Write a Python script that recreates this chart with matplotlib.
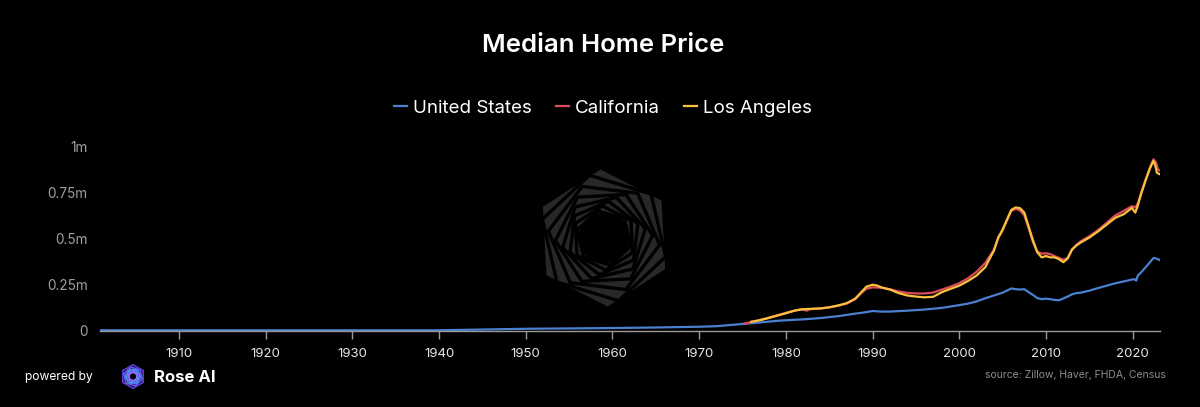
import numpy as np
import matplotlib
matplotlib.use("Agg")
import matplotlib.pyplot as plt
from matplotlib.patches import RegularPolygon, Circle
from matplotlib.lines import Line2D

plt.rcParams['font.family'] = ['Inter', 'DejaVu Sans']

# ---------------- data (values in millions of USD) ----------------
us_years = [1901, 1910, 1920, 1930, 1940, 1945, 1950, 1955, 1960, 1965, 1970, 1972, 1973,
            1975, 1977, 1979, 1980, 1982, 1984, 1986, 1988, 1989, 1990, 1991, 1992, 1994,
            1996, 1998, 2000, 2001, 2002, 2003, 2004, 2005, 2006, 2006.5, 2007, 2007.5,
            2008, 2008.5, 2009, 2009.5, 2010, 2010.5, 2011, 2011.5, 2012, 2012.5, 2013,
            2013.5, 2014, 2015, 2016, 2017, 2018, 2019, 2019.9, 2020.2, 2020.4, 2020.6,
            2021, 2021.5, 2022, 2022.4, 2022.7, 2023.1]
us_values = [0.004, 0.004, 0.004, 0.004, 0.004, 0.008, 0.012, 0.014, 0.016, 0.019, 0.023, 0.026, 0.030,
             0.038, 0.046, 0.055, 0.058, 0.063, 0.070, 0.080, 0.094, 0.100, 0.108, 0.105, 0.105, 0.110,
             0.116, 0.125, 0.140, 0.148, 0.160, 0.177, 0.192, 0.207, 0.230, 0.226, 0.224, 0.226,
             0.210, 0.195, 0.178, 0.172, 0.175, 0.172, 0.168, 0.166, 0.176, 0.186, 0.198,
             0.205, 0.207, 0.218, 0.232, 0.245, 0.258, 0.268, 0.278, 0.280, 0.272, 0.300,
             0.318, 0.345, 0.372, 0.395, 0.392, 0.384]

ca_years = [1975.2, 1976, 1977, 1978, 1979, 1980, 1981, 1981.7, 1982, 1982.4, 1982.8, 1984, 1985,
            1986, 1987, 1988, 1988.7, 1989.3, 1990, 1991, 1992, 1993, 1994, 1995, 1996, 1997,
            1998, 1999, 2000, 2001, 2002, 2003, 2004, 2004.5, 2005, 2005.5, 2006, 2006.5, 2007,
            2007.5, 2008, 2008.5, 2009, 2009.5, 2010, 2010.5, 2011, 2011.5, 2012, 2012.5, 2013,
            2013.5, 2014, 2015, 2016, 2017, 2018, 2019, 2019.9, 2020.3, 2020.6, 2021, 2021.5,
            2022, 2022.4, 2022.7, 2022.9, 2023.1]
ca_values = [0.040, 0.048, 0.060, 0.072, 0.085, 0.098, 0.110, 0.117, 0.115, 0.110, 0.118, 0.122, 0.128,
             0.136, 0.148, 0.172, 0.205, 0.228, 0.236, 0.234, 0.226, 0.214, 0.206, 0.203, 0.203, 0.208,
             0.224, 0.240, 0.258, 0.285, 0.320, 0.368, 0.440, 0.505, 0.545, 0.598, 0.648, 0.660, 0.652,
             0.625, 0.555, 0.480, 0.430, 0.418, 0.420, 0.415, 0.405, 0.395, 0.385, 0.395, 0.440,
             0.465, 0.485, 0.512, 0.545, 0.585, 0.625, 0.650, 0.675, 0.668, 0.690, 0.750, 0.820,
             0.885, 0.928, 0.910, 0.875, 0.868]

la_years = [1976, 1977, 1978, 1979, 1980, 1981, 1982, 1983, 1984, 1985, 1986, 1987, 1988, 1988.7,
            1989.3, 1990, 1990.5, 1991, 1992, 1993, 1994, 1995, 1996, 1997, 1998, 1999, 2000, 2001,
            2002, 2003, 2004, 2004.5, 2005, 2005.5, 2006, 2006.5, 2007, 2007.5, 2008, 2008.5, 2009,
            2009.5, 2010, 2010.5, 2011, 2011.5, 2012, 2012.5, 2013, 2013.5, 2014, 2015, 2016, 2017,
            2018, 2019, 2019.9, 2020.3, 2020.6, 2021, 2021.5, 2022, 2022.4, 2022.6, 2022.8, 2023.1]
la_values = [0.050, 0.058, 0.070, 0.083, 0.096, 0.110, 0.118, 0.120, 0.122, 0.128, 0.138, 0.150, 0.175, 0.210,
             0.240, 0.250, 0.246, 0.236, 0.224, 0.205, 0.192, 0.186, 0.182, 0.185, 0.210, 0.228, 0.245, 0.270,
             0.300, 0.345, 0.435, 0.505, 0.548, 0.602, 0.655, 0.668, 0.664, 0.640, 0.565, 0.490, 0.425,
             0.398, 0.405, 0.398, 0.398, 0.388, 0.372, 0.392, 0.440, 0.462, 0.478, 0.505, 0.538, 0.575,
             0.612, 0.632, 0.665, 0.640, 0.680, 0.745, 0.815, 0.880, 0.920, 0.895, 0.855, 0.848]

series_names = ["United States", "California", "Los Angeles"]
series_colors = ["#4a80d0", "#dc4a5c", "#f8c23c"]

x_ticks = list(range(1910, 2021, 10))
y_ticks = [0, 0.25, 0.5, 0.75, 1.0]
y_tick_labels = ["0", "0.25m", "0.5m", "0.75m", "1m"]

title = "Median Home Price"
source = "source: Zillow, Haver, FHDA, Census"

# ---------------- figure ----------------
W, H = 1200, 407
fig = plt.figure(figsize=(W / 100, H / 100), dpi=100, facecolor="black")

def fx(px):
    return px / W

def fy(py):
    return 1 - py / H

# watermark logo (behind chart), centred at (604, 238)
wm = fig.add_axes([fx(604 - 70), fy(238 + 70), 140 / W, 140 / H])
wm.set_xlim(-1, 1)
wm.set_ylim(-1, 1)
wm.axis("off")
wm.add_patch(RegularPolygon((0, 0), 6, radius=0.98, orientation=np.deg2rad(3),
                            facecolor="#282828", edgecolor="none"))
r = 0.92
for k in range(8):
    wm.add_patch(RegularPolygon((0, 0), 6, radius=r, orientation=np.deg2rad(3 + 10 * (k + 1)),
                                facecolor="none", edgecolor="black", lw=2.4))
    r *= 0.87
wm.add_patch(Circle((0, 0), 0.36, facecolor="black", edgecolor="none"))

ax = fig.add_axes([fx(100), fy(331), fx(1160) - fx(100), (331 - 146) / H])
ax.set_facecolor("none")
ax.plot(us_years, us_values, color=series_colors[0], lw=1.6, solid_joinstyle="round")
ax.plot(ca_years, ca_values, color=series_colors[1], lw=1.6, solid_joinstyle="round")
ax.plot(la_years, la_values, color=series_colors[2], lw=1.6, solid_joinstyle="round")

ax.set_xlim(1900.9, 2023.15)
ax.set_ylim(0, 1.0)
for s in ["top", "right", "left"]:
    ax.spines[s].set_visible(False)
ax.spines["bottom"].set_color("#9a9a9a")
ax.spines["bottom"].set_linewidth(1.0)
ax.set_xticks(x_ticks)
ax.set_xticklabels([str(t) for t in x_ticks], fontsize=9.5, color="#e6e6e6")
ax.tick_params(axis="x", direction="out", length=6, width=1, color="#9a9a9a", pad=6)
ax.set_yticks(y_ticks)
ax.set_yticklabels(y_tick_labels, fontsize=9.8, color="#a0a0a0")
ax.tick_params(axis="y", length=0, pad=9)

# title
fig.text(0.5025, fy(45), title, ha="center", va="center", color="white", fontsize=18.5, fontweight="semibold")

# legend
handles = [Line2D([0], [0], color=c, lw=1.6) for c in series_colors]
leg = fig.legend(handles, series_names, loc="center", bbox_to_anchor=(0.5025, fy(108)), ncol=3,
                 frameon=False, handlelength=0.7, handletextpad=0.3, columnspacing=1.3,
                 fontsize=13.5, labelcolor="white")

# footer
fig.text(fx(25), fy(377), "powered by", ha="left", va="center", color="white", fontsize=8.7)
lg = fig.add_axes([fx(120), fy(390), fx(26), 27 / H])
lg.set_xlim(-1.1, 1.1)
lg.set_ylim(-1.15, 1.15)
lg.set_aspect("equal")
lg.axis("off")
logo_cols = ["#5a3ad8", "#6a52f0", "#4f7fe8", "#3fa0f0", "#7a5cff", "#8f6bff"]
r = 1.0
for k in range(6):
    lg.add_patch(RegularPolygon((0, 0), 6, radius=r, orientation=np.deg2rad(12 * k),
                                facecolor="none", edgecolor=logo_cols[k], lw=1.2))
    r *= 0.82
fig.text(fx(154), fy(377), "Rose AI", ha="left", va="center", color="white", fontsize=12, fontweight="bold")
fig.text(fx(1166), fy(375), source, ha="right", va="center", color="#8c8c8c", fontsize=7.5)

fig.savefig("out.png", dpi=100, facecolor="black")
